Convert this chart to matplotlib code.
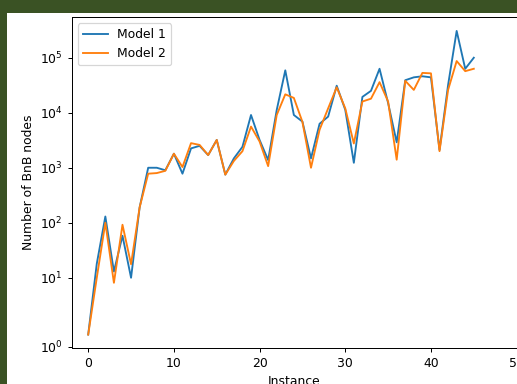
import matplotlib
matplotlib.use('Agg')
import matplotlib.pyplot as plt
from matplotlib.patches import Rectangle
from matplotlib.ticker import NullLocator

instances = list(range(46))
model1 = [1.4, 18, 130, 13, 58, 10, 190, 1000, 1000, 900,
          1800, 780, 2250, 2500, 1700, 3200, 750, 1480, 2400, 9100,
          3200, 1380, 11200, 59000, 9100, 6900, 1480, 6300, 8500, 31000,
          11300, 1230, 19400, 25000, 63000, 15000, 2900, 39000, 44000, 46000,
          44000, 2100, 32000, 307000, 63000, 100000]
model2 = [1.4, 10, 100, 8.1, 92, 17.6, 190, 780, 800, 880,
          1800, 1030, 2800, 2600, 1700, 3200, 750, 1330, 2000, 5600,
          3000, 1070, 9100, 21600, 18600, 6800, 1000, 4900, 12000, 29000,
          12000, 2760, 16000, 18000, 36000, 16000, 1400, 38000, 26000, 53000,
          52000, 2000, 26000, 87000, 57000, 63000]

dpi = 89.5
fig = plt.figure(figsize=(517 / dpi, 384 / dpi), dpi=dpi)
fig.patch.set_facecolor('#3a5224')
fig.add_artist(Rectangle((7 / 517, 0), 1, (384 - 12.5) / 384,
                         transform=fig.transFigure, facecolor='white',
                         edgecolor='none', zorder=-1))

ax = fig.add_axes([71.5 / 517, 36 / 384, 446 / 517, 331 / 384])
ax.plot(instances, model1, label='Model 1')
ax.plot(instances, model2, label='Model 2')
ax.set_yscale('symlog')
ax.yaxis.set_minor_locator(NullLocator())
ax.set_xlim(-1.95, 50.1)
ax.set_ylim(0.96, 5.5e5)
ax.set_xlabel('Instance')
ax.set_ylabel('Number of BnB nodes')
ax.legend(loc='upper left')

fig.savefig('out.png', dpi=dpi, facecolor=fig.get_facecolor())
